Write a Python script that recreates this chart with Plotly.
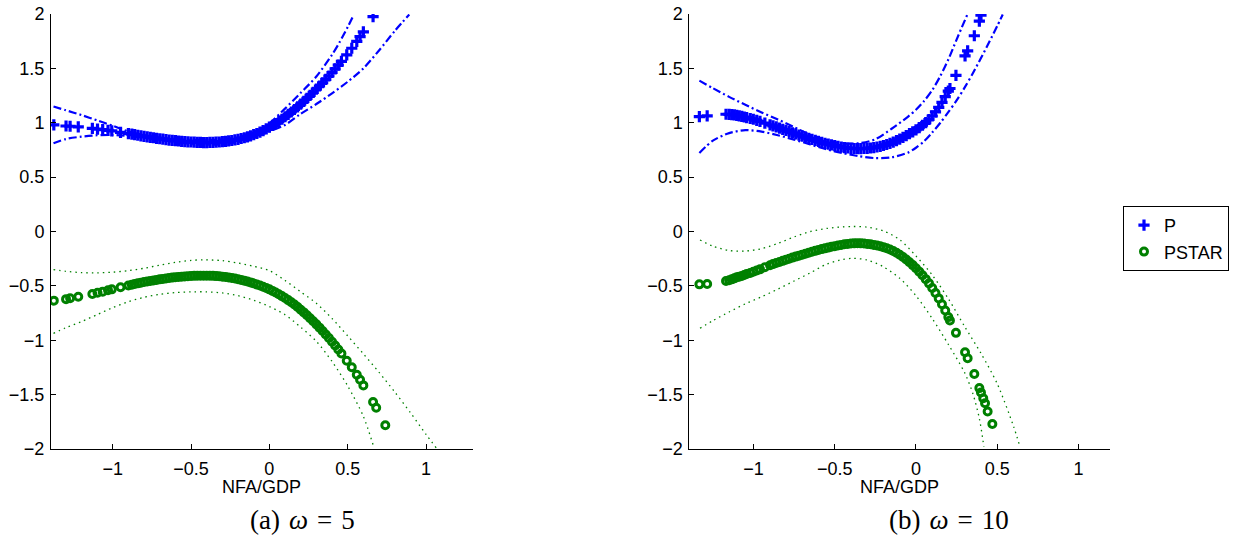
import plotly.graph_objects as go

# ---------------- panel (a): omega = 5 ----------------
NFA_A = [-1.376, -1.298, -1.272, -1.220, -1.130, -1.097, -1.064, -1.030, -1.006, -0.950, -0.900, -0.878,
         -0.86, -0.84, -0.82, -0.80, -0.78, -0.76, -0.74, -0.72, -0.70, -0.68, -0.66, -0.64, -0.62, -0.60,
         -0.58, -0.56, -0.54, -0.52, -0.50, -0.48, -0.46, -0.44, -0.42, -0.40, -0.38, -0.36, -0.34, -0.32,
         -0.30, -0.28, -0.26, -0.24, -0.22, -0.20, -0.18, -0.16, -0.14, -0.12, -0.10, -0.08, -0.06, -0.04,
         -0.02, 0.00, 0.02, 0.04, 0.06, 0.08, 0.10, 0.12, 0.14, 0.16, 0.18, 0.20, 0.22, 0.24, 0.26, 0.28,
         0.30, 0.32, 0.34, 0.36, 0.38, 0.40, 0.42, 0.44, 0.46,
         0.494, 0.526, 0.558, 0.579, 0.600, 0.662, 0.682, 0.740]

P_A = [0.980, 0.970, 0.968, 0.962, 0.948, 0.942, 0.936, 0.930, 0.925, 0.912, 0.900, 0.895,
       0.890, 0.885, 0.880, 0.875, 0.870, 0.866, 0.862, 0.857, 0.853, 0.849, 0.845, 0.841, 0.838, 0.835,
       0.832, 0.829, 0.827, 0.825, 0.823, 0.821, 0.820, 0.819, 0.818, 0.818, 0.819, 0.820, 0.821, 0.823,
       0.826, 0.829, 0.833, 0.837, 0.842, 0.848, 0.855, 0.862, 0.870, 0.880, 0.890, 0.901, 0.913, 0.927,
       0.943, 0.960, 0.975, 0.992, 1.010, 1.032, 1.055, 1.077, 1.099, 1.122, 1.146, 1.171, 1.197, 1.224,
       1.252, 1.280, 1.309, 1.338, 1.368, 1.399, 1.430, 1.462, 1.495, 1.529, 1.564,
       1.625, 1.685, 1.748, 1.792, 1.836, 1.975, None, None]

PSTAR_A = [-0.636, -0.622, -0.614, -0.600, -0.575, -0.563, -0.553, -0.541, -0.532, -0.513, -0.496, -0.489,
           -0.483, -0.477, -0.471, -0.465, -0.460, -0.455, -0.450, -0.445, -0.440, -0.436, -0.432, -0.428,
           -0.424, -0.421, -0.418, -0.415, -0.413, -0.411, -0.409, -0.408, -0.407, -0.406, -0.406, -0.406,
           -0.407, -0.408, -0.410, -0.412, -0.415, -0.418, -0.422, -0.427, -0.432, -0.438, -0.445, -0.452,
           -0.460, -0.468, -0.477, -0.487, -0.497, -0.508, -0.520, -0.532, -0.546, -0.561, -0.577, -0.594,
           -0.612, -0.631, -0.651, -0.672, -0.695, -0.719, -0.744, -0.770, -0.797, -0.825, -0.854, -0.884,
           -0.915, -0.947, -0.980, -1.014, -1.049, -1.085, -1.122,
           -1.188, -1.249, -1.318, -1.364, -1.415, -1.568, -1.620, -1.782]

# confidence bands, panel (a)
PA_HI_X = [-1.378, -1.3, -1.2, -1.1, -1.0, -0.9, -0.8, -0.7, -0.6, -0.5, -0.4, -0.3, -0.2, -0.1, 0.0,
           0.1, 0.2, 0.3, 0.4, 0.45, 0.5, 0.536]
PA_HI_Y = [1.150, 1.115, 1.071, 1.022, 0.972, 0.920, 0.882, 0.862, 0.850, 0.842, 0.840, 0.847, 0.868,
           0.915, 0.995, 1.130, 1.275, 1.425, 1.625, 1.745, 1.880, 1.985]
PA_LO_X = [-1.378, -1.3, -1.2, -1.1, -1.0, -0.9, -0.8, -0.7, -0.6, -0.5, -0.4, -0.3, -0.2, -0.1, 0.0,
           0.1, 0.2, 0.3, 0.4, 0.5, 0.6, 0.7, 0.8, 0.893]
PA_LO_Y = [0.811, 0.850, 0.872, 0.885, 0.887, 0.878, 0.862, 0.843, 0.822, 0.805, 0.798, 0.803, 0.823,
           0.862, 0.920, 0.980, 1.082, 1.172, 1.270, 1.377, 1.500, 1.665, 1.843, 1.995]
SA_HI_X = [-1.378, -1.3, -1.2, -1.1, -1.0, -0.9, -0.8, -0.7, -0.6, -0.5, -0.42, -0.3, -0.2, -0.1, 0.0,
           0.1, 0.2, 0.3, 0.4, 0.5, 0.6, 0.7, 0.8, 0.9, 1.0, 1.068]
SA_HI_Y = [-0.350, -0.366, -0.378, -0.380, -0.374, -0.360, -0.338, -0.310, -0.284, -0.266, -0.260,
           -0.268, -0.290, -0.320, -0.360, -0.450, -0.555, -0.660, -0.800, -0.960, -1.125, -1.295,
           -1.475, -1.665, -1.865, -1.995]
SA_LO_X = [-1.378, -1.3, -1.2, -1.1, -1.0, -0.9, -0.8, -0.7, -0.6, -0.5, -0.4, -0.3, -0.2, -0.1, 0.0,
           0.1, 0.2, 0.3, 0.4, 0.5, 0.6, 0.664]
SA_LO_Y = [-0.936, -0.885, -0.829, -0.765, -0.700, -0.645, -0.605, -0.578, -0.562, -0.555, -0.555,
           -0.565, -0.590, -0.632, -0.690, -0.765, -0.880, -1.010, -1.195, -1.420, -1.700, -1.970]

# ---------------- panel (b): omega = 10 ----------------
NFA_B = [-1.333, -1.285, -1.169, -1.150, -1.134, -1.118, -1.103, -1.088, -1.072, -1.057, -1.042, -1.020,
         -1.001, -0.980, -0.960, -0.930, -0.898, -0.880,
         -0.86, -0.84, -0.82, -0.80, -0.78, -0.76, -0.74, -0.72, -0.70, -0.68, -0.66, -0.64, -0.62, -0.60,
         -0.58, -0.56, -0.54, -0.52, -0.50, -0.48, -0.46, -0.44, -0.42, -0.40, -0.38, -0.36, -0.34, -0.32,
         -0.30, -0.28, -0.26, -0.24, -0.22, -0.20, -0.18, -0.16, -0.14, -0.12, -0.10, -0.08, -0.06, -0.04,
         -0.02, 0.00, 0.02, 0.04, 0.06, 0.08, 0.10, 0.12, 0.14, 0.16, 0.18,
         0.199, 0.209, 0.246, 0.302, 0.318, 0.359, 0.390, 0.400, 0.414, 0.425, 0.441, 0.470]

P_B = [1.056, 1.064, 1.078, 1.077, 1.075, 1.072, 1.068, 1.063, 1.058, 1.053, 1.047, 1.039,
       1.032, 1.022, 1.012, 0.997, 0.981, 0.972,
       0.962, 0.951, 0.940, 0.930, 0.919, 0.908, 0.898, 0.887, 0.877, 0.867, 0.857, 0.847, 0.838, 0.829,
       0.820, 0.811, 0.803, 0.796, 0.789, 0.783, 0.777, 0.772, 0.768, 0.765, 0.763, 0.762, 0.762, 0.763,
       0.765, 0.768, 0.772, 0.777, 0.783, 0.791, 0.800, 0.810, 0.822, 0.835, 0.849, 0.865, 0.882, 0.900,
       0.917, 0.935, 0.955, 0.977, 1.001, 1.030, 1.062, 1.100, 1.142, 1.188, 1.240,
       1.290, 1.315, 1.435, 1.615, 1.660, 1.800, 1.935, 1.990, None, None, None, None]

PSTAR_B = [-0.486, -0.483, -0.455, -0.448, -0.440, -0.431, -0.421, -0.415, -0.409, -0.400, -0.391, -0.381,
           -0.370, -0.359, -0.348, -0.329, -0.310, -0.300,
           -0.290, -0.280, -0.270, -0.260, -0.250, -0.240, -0.231, -0.222, -0.213, -0.204, -0.195, -0.186,
           -0.178, -0.170, -0.162, -0.155, -0.148, -0.141, -0.135, -0.129, -0.123, -0.118, -0.114, -0.111,
           -0.109, -0.108, -0.109, -0.111, -0.114, -0.118, -0.123, -0.129, -0.136, -0.144, -0.154, -0.166,
           -0.180, -0.196, -0.214, -0.234, -0.257, -0.282, -0.309, -0.338, -0.369, -0.402, -0.438, -0.477,
           -0.519, -0.565, -0.615, -0.669, -0.727,
           -0.787, -0.818, -0.932, -1.111, -1.166, -1.310, -1.440, -1.480, -1.534, -1.580, -1.655, -1.770]

# confidence bands, panel (b)
PB_HI_X = [-1.333, -1.25, -1.15, -1.05, -0.95, -0.85, -0.75, -0.65, -0.55, -0.45, -0.35, -0.25, -0.15,
           -0.05, 0.0, 0.05, 0.1, 0.15, 0.2, 0.25, 0.316]
PB_HI_Y = [1.387, 1.318, 1.238, 1.165, 1.095, 1.030, 0.960, 0.890, 0.840, 0.810, 0.812, 0.848, 0.945,
           1.055, 1.120, 1.200, 1.300, 1.430, 1.585, 1.765, 1.995]
PB_LO_X = [-1.333, -1.25, -1.15, -1.05, -0.95, -0.85, -0.75, -0.65, -0.55, -0.45, -0.35, -0.25, -0.15,
           -0.05, 0.0, 0.05, 0.1, 0.15, 0.2, 0.25, 0.3, 0.35, 0.4, 0.45, 0.5, 0.534]
PB_LO_Y = [0.722, 0.835, 0.905, 0.932, 0.918, 0.885, 0.845, 0.800, 0.755, 0.720, 0.692, 0.675, 0.682,
           0.725, 0.770, 0.830, 0.910, 1.000, 1.100, 1.205, 1.325, 1.455, 1.595, 1.740, 1.890, 1.995]
SB_HI_X = [-1.329, -1.25, -1.15, -1.05, -0.95, -0.85, -0.75, -0.65, -0.55, -0.45, -0.386, -0.3, -0.2,
           -0.1, 0.0, 0.1, 0.2, 0.3, 0.4, 0.5, 0.6, 0.64]
SB_HI_Y = [-0.078, -0.135, -0.175, -0.180, -0.158, -0.110, -0.050, 0.000, 0.028, 0.043, 0.046, 0.040,
           0.005, -0.075, -0.225, -0.400, -0.620, -0.875, -1.120, -1.400, -1.790, -1.980]
SB_LO_X = [-1.329, -1.25, -1.15, -1.05, -0.95, -0.85, -0.75, -0.65, -0.55, -0.45, -0.386, -0.3, -0.2,
           -0.1, 0.0, 0.1, 0.2, 0.3, 0.35, 0.39, 0.418]
SB_LO_Y = [-0.890, -0.820, -0.740, -0.665, -0.600, -0.530, -0.455, -0.380, -0.300, -0.257, -0.247,
           -0.262, -0.325, -0.430, -0.590, -0.800, -1.040, -1.300, -1.490, -1.720, -1.980]

X_TICKS = [-1, -0.5, 0, 0.5, 1]
Y_TICKS = [-2, -1.5, -1, -0.5, 0, 0.5, 1, 1.5, 2]
# three-per-em spaces give the math spacing of the typeset captions
CAPTIONS = ["(a)\u2004<i>ω</i>\u2004=\u20045", "(b)\u2004<i>ω</i>\u2004=\u200410"]
X_LABEL = "NFA/GDP"

BLUE = "rgb(0,0,255)"
GREEN = "rgb(0,128,0)"
FONT = "Liberation Sans, Arial, Helvetica, sans-serif"
SERIF = "Liberation Serif, Times New Roman, serif"

fig = go.Figure()


def add_panel(xa, ya, nfa, p, pstar, bands, show_legend):
    fig.add_trace(go.Scatter(
        x=nfa, y=p, mode="markers", name="P", showlegend=show_legend, legendgroup="P",
        marker=dict(symbol="cross-thin-open", size=8, color=BLUE, line=dict(color=BLUE, width=3.2)),
        xaxis=xa, yaxis=ya))
    fig.add_trace(go.Scatter(
        x=nfa, y=pstar, mode="markers", name="PSTAR", showlegend=show_legend, legendgroup="S",
        marker=dict(symbol="circle-open", size=7, color=GREEN, line=dict(color=GREEN, width=3)),
        xaxis=xa, yaxis=ya))
    for bx, by, color, dash, width in bands:
        fig.add_trace(go.Scatter(
            x=bx, y=by, mode="lines", showlegend=False, hoverinfo="skip",
            line=dict(color=color, dash=dash, width=width, shape="spline", smoothing=0.8),
            xaxis=xa, yaxis=ya))


DASHDOT = "8px,3px,2px,3px"
DOTTED = "1.5px,4px"

add_panel("x", "y", NFA_A, P_A, PSTAR_A, [
    (PA_HI_X, PA_HI_Y, BLUE, DASHDOT, 2.2),
    (PA_LO_X, PA_LO_Y, BLUE, DASHDOT, 2.2),
    (SA_HI_X, SA_HI_Y, GREEN, DOTTED, 1.3),
    (SA_LO_X, SA_LO_Y, GREEN, DOTTED, 1.3),
], True)
add_panel("x2", "y2", NFA_B, P_B, PSTAR_B, [
    (PB_HI_X, PB_HI_Y, BLUE, DASHDOT, 2.2),
    (PB_LO_X, PB_LO_Y, BLUE, DASHDOT, 2.2),
    (SB_HI_X, SB_HI_Y, GREEN, DOTTED, 1.3),
    (SB_LO_X, SB_LO_Y, GREEN, DOTTED, 1.3),
], False)

W, H = 1248, 552


def xaxis_style(domain, rng, anchor):
    return dict(domain=domain, range=rng, tickvals=X_TICKS, ticks="inside", ticklen=5,
                tickcolor="black", showline=True, linecolor="black", linewidth=1, mirror=False,
                showgrid=False, zeroline=False, ticklabelstandoff=3, automargin=False, anchor=anchor,
                tickfont=dict(family=FONT, size=18, color="black"))


def yaxis_style(domain, anchor):
    return dict(domain=domain, range=[-2, 2], tickvals=Y_TICKS, ticks="inside", ticklen=5,
                tickcolor="black", showline=True, linecolor="black", linewidth=1, mirror=False,
                showgrid=False, zeroline=False, anchor=anchor, ticklabelstandoff=2, automargin=False,
                tickfont=dict(family=FONT, size=18, color="black"))


ydom = [1 - 449 / H, 1 - 14 / H]
xdom_a = [51 / W, 472.7 / W]
xdom_b = [689.3 / W, 1110 / W]

fig.update_layout(
    width=W, height=H,
    margin=dict(l=0, r=0, t=0, b=0),
    paper_bgcolor="white", plot_bgcolor="white",
    xaxis=xaxis_style(xdom_a, [-1.394, 1.298], "y"),
    yaxis=yaxis_style(ydom, "x"),
    xaxis2=xaxis_style(xdom_b, [-1.395, 1.194], "y2"),
    yaxis2=yaxis_style(ydom, "x2"),
    legend=dict(x=1123 / W, y=1 - 206 / H, xanchor="left", yanchor="top",
                bordercolor="black", borderwidth=1, bgcolor="white",
                font=dict(family=FONT, size=18, color="black"),
                itemsizing="trace", tracegroupgap=0),
    annotations=[
        dict(text=X_LABEL, x=sum(xdom_a) / 2, y=1 - 487 / H, xref="paper", yref="paper",
             xanchor="center", yanchor="middle", showarrow=False,
             font=dict(family=FONT, size=18, color="black")),
        dict(text=X_LABEL, x=sum(xdom_b) / 2, y=1 - 487 / H, xref="paper", yref="paper",
             xanchor="center", yanchor="middle", showarrow=False,
             font=dict(family=FONT, size=18, color="black")),
        dict(text=CAPTIONS[0], x=302 / W, y=1 - 520 / H, xref="paper", yref="paper",
             xanchor="center", yanchor="middle", showarrow=False,
             font=dict(family=SERIF, size=27, color="black")),
        dict(text=CAPTIONS[1], x=949 / W, y=1 - 520 / H, xref="paper", yref="paper",
             xanchor="center", yanchor="middle", showarrow=False,
             font=dict(family=SERIF, size=27, color="black")),
    ],
)

fig.write_html("out.html")
